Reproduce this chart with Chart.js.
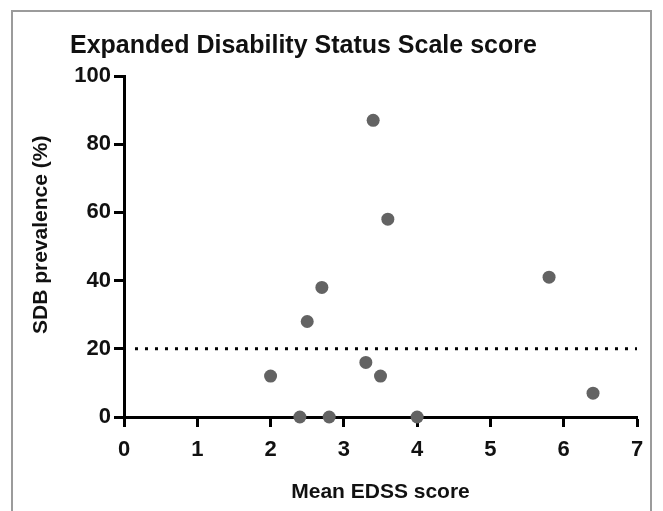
<!DOCTYPE html>
<html>
<head>
<meta charset="utf-8">
<script src="https://cdn.jsdelivr.net/npm/chart.js@4.4.1/dist/chart.umd.min.js"></script>
<style>
    html, body { margin: 0; padding: 0; background: #fff; overflow: hidden; }
    #wrap { position: relative; width: 663px; height: 511px; }
    #frame { position: absolute; left: 11px; top: 10px; width: 641px; height: 520px; border: 2px solid #9b9b9b; box-sizing: border-box; }
    canvas { position: absolute; left: 0; top: 0; }
</style>
</head>
<body>
<div id="wrap">
    <div id="frame"></div>
    <canvas id="chart" width="663" height="511"></canvas>
</div>
<script>
// ===== DATOS =====
const chartTitle = 'Expanded Disability Status Scale score';
const xAxisTitle = 'Mean EDSS score';
// espacios iniciales: suben el título rotado un poco, como en la figura
const yAxisTitle = '    SDB prevalence (%)';

const edssScores = [3.4, 3.6, 2.7, 2.5, 2.0, 3.3, 3.5, 2.4, 2.8, 4.0, 5.8, 6.4];
const sdbPrevalence = [87, 58, 38, 28, 12, 16, 12, 0, 0, 0, 41, 7];

const xTicks = [0, 1, 2, 3, 4, 5, 6, 7];
const yTicks = [0, 20, 40, 60, 80, 100];

// linea de corte punteada
const cutoffX = [0.15, 7];
const cutoffY = 20;

const FONT = '"Liberation Sans", Arial, sans-serif';
const TEXT = '#111';

// Título alineado a la izquierda (como en la figura original)
const leftTitlePlugin = {
    id: 'leftTitle',
    afterDraw: (chart) => {
        const ctx = chart.ctx;
        ctx.save();
        ctx.font = `bold 25px ${FONT}`;
        ctx.fillStyle = TEXT;
        ctx.textAlign = 'left';
        ctx.textBaseline = 'alphabetic';
        ctx.fillText(chartTitle, 70, 53);
        ctx.restore();
    }
};

const points = edssScores.map((x, i) => ({ x: x, y: sdbPrevalence[i] }));
const cutoff = cutoffX.map(x => ({ x: x, y: cutoffY }));

new Chart(document.getElementById('chart'), {
    type: 'scatter',
    data: {
        datasets: [
            {
                data: points,
                backgroundColor: '#636363',
                borderColor: '#636363',
                borderWidth: 0,
                pointRadius: 6.5,
                pointHoverRadius: 6.5,
                clip: false
            },
            {
                type: 'line',
                data: cutoff,
                borderColor: '#000',
                borderWidth: 3,
                borderDash: [3, 7],
                pointRadius: 0,
                fill: false
            }
        ]
    },
    options: {
        responsive: false,
        animation: false,
        layout: { padding: { left: 20, right: 26, top: 76, bottom: 4 } },
        plugins: {
            legend: { display: false },
            tooltip: { enabled: false }
        },
        scales: {
            x: {
                type: 'linear',
                min: 0,
                max: 7,
                afterBuildTicks: (scale) => { scale.ticks = xTicks.map(v => ({ value: v })); },
                afterFit: (scale) => { scale.height = 511 - 4 - 417; },
                border: { display: true, color: '#000', width: 3 },
                grid: { drawOnChartArea: false, drawTicks: true, tickLength: 10, tickWidth: 3, tickColor: '#000' },
                ticks: { color: TEXT, font: { family: FONT, size: 22, weight: 'bold' }, padding: 10, maxRotation: 0 },
                title: { display: true, text: xAxisTitle, color: TEXT, font: { family: FONT, size: 21, weight: 'bold' }, padding: { top: 0, bottom: 2 } }
            },
            y: {
                type: 'linear',
                min: 0,
                max: 100,
                afterBuildTicks: (scale) => { scale.ticks = yTicks.map(v => ({ value: v })); },
                afterFit: (scale) => { scale.width = 124 - 20; },
                border: { display: true, color: '#000', width: 3 },
                grid: { drawOnChartArea: false, drawTicks: true, tickLength: 10, tickWidth: 3, tickColor: '#000' },
                ticks: { color: TEXT, font: { family: FONT, size: 22, weight: 'bold' }, padding: 3 },
                title: { display: true, text: yAxisTitle, color: TEXT, font: { family: FONT, size: 21, weight: 'bold' }, padding: { top: 9, bottom: 0 } }
            }
        }
    },
    plugins: [leftTitlePlugin]
});
</script>
</body>
</html>
